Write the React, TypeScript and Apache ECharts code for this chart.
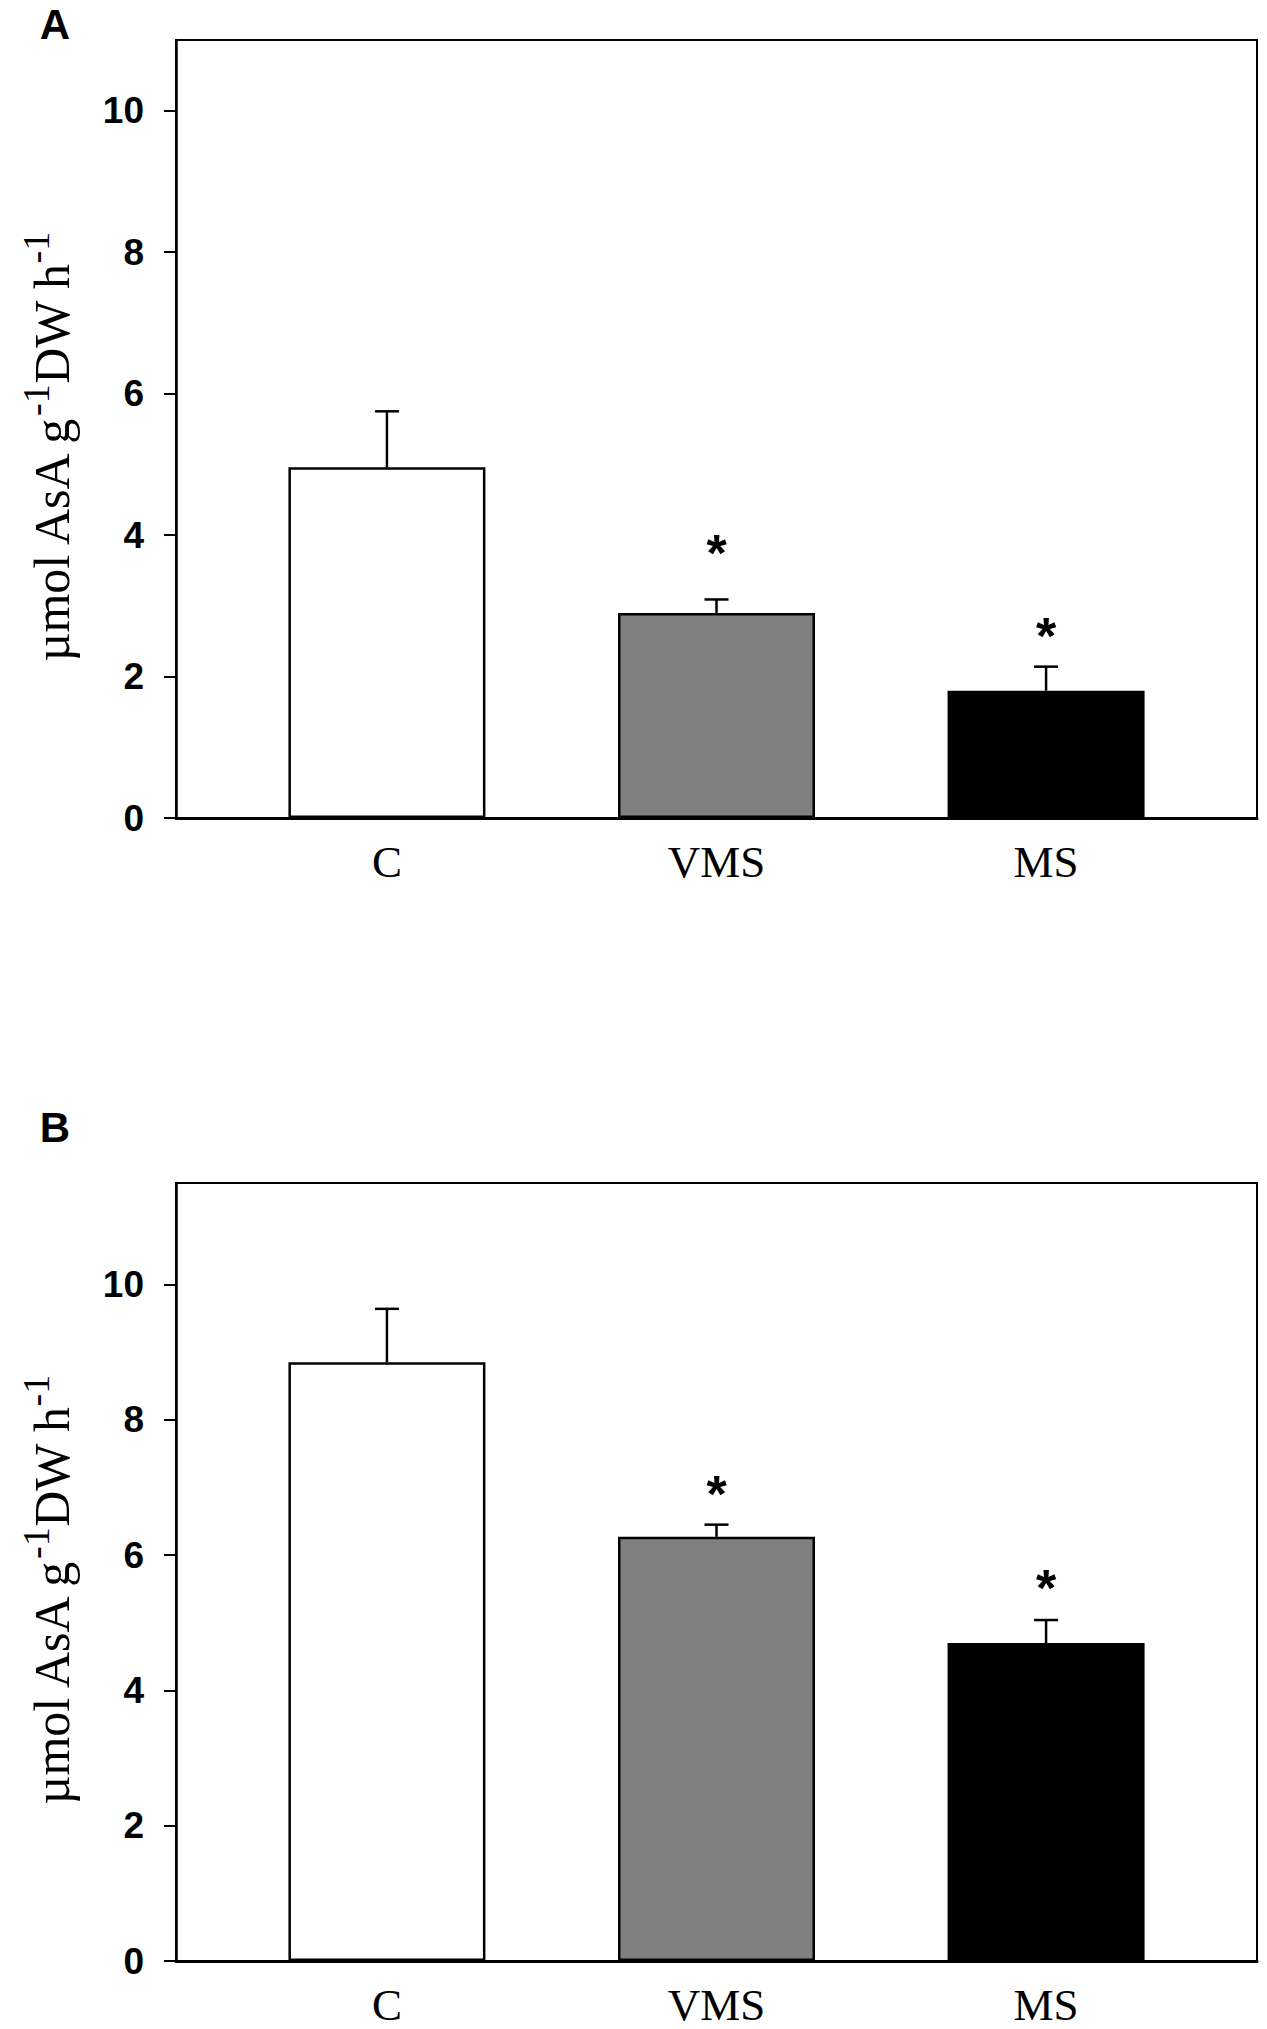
import React, { useEffect, useRef } from 'react';
import * as echarts from 'echarts';

const categories = ['C', 'VMS', 'MS'];
const categoryPos = [1, 2, 3];
const barColors = ['#ffffff', '#808080', '#000000'];
const meanA = [4.96, 2.9, 1.8];
const errA = [0.79, 0.19, 0.34];
const starA = [null, 3.9, 2.73];
const meanB = [8.85, 6.27, 4.7];
const errB = [0.79, 0.18, 0.34];
const starB = [null, 7.07, 5.68];
const yTicks = [0, 2, 4, 6, 8, 10];
const yMax = [11, 11.5];
const panelLabels = ['A', 'B'];
const yTitle = '{m|µmol AsA g}{s|-1}{m|DW h}{s|-1}';

const W = 1267;
const H = 2029;
const GRID_LEFT = 176;
const GRID_WIDTH = 1081;
const GRID_HEIGHT = 778;
const GRID_TOPS = [40, 1183];

export default function App() {
  const ref = useRef<HTMLDivElement>(null);
  useEffect(() => {
    if (!ref.current) return;
    const chart = echarts.init(ref.current, null, { renderer: 'svg' });
    const means = [meanA, meanB];
    const errs = [errA, errB];
    const stars = [starA, starB];

    const grid: any[] = [];
    const xAxis: any[] = [];
    const yAxis: any[] = [];
    const series: any[] = [];
    const elements: any[] = [];

    [0, 1].forEach((i) => {
      grid.push({
        left: GRID_LEFT,
        top: GRID_TOPS[i],
        width: GRID_WIDTH,
        height: GRID_HEIGHT,
        show: true,
        borderColor: '#000',
        borderWidth: 2,
        backgroundColor: 'transparent',
      });
      xAxis.push({
        type: 'value',
        gridIndex: i,
        min: 0.36,
        max: 3.64,
        axisLine: { show: true, onZero: false, lineStyle: { color: '#000', width: 3 } },
        axisTick: { show: false },
        splitLine: { show: false },
        axisLabel: {
          customValues: categoryPos,
          formatter: (v: number) => {
            const k = categoryPos.indexOf(Math.round(v));
            return k >= 0 ? categories[k] : '';
          },
          fontFamily: 'Liberation Serif',
          fontSize: 45,
          color: '#000',
          margin: 21,
        },
      });
      yAxis.push({
        type: 'value',
        gridIndex: i,
        min: 0,
        max: yMax[i],
        interval: 2,
        axisLine: { show: true, lineStyle: { color: '#000', width: 2.5 } },
        axisTick: {
          show: true,
          inside: false,
          length: 12,
          customValues: yTicks,
          lineStyle: { color: '#000', width: 2 },
        },
        splitLine: { show: false },
        axisLabel: {
          customValues: yTicks,
          fontFamily: 'Liberation Sans',
          fontWeight: 'bold',
          fontSize: 37,
          color: '#000',
          margin: 32,
        },
      });
      series.push({
        type: 'bar',
        xAxisIndex: i,
        yAxisIndex: i,
        barWidth: 197,
        itemStyle: { borderColor: '#000', borderWidth: 2.5 },
        data: categoryPos.map((x, j) => ({
          value: [x, means[i][j]],
          itemStyle: { color: barColors[j] },
        })),
        z: 2,
      });
      series.push({
        type: 'custom',
        xAxisIndex: i,
        yAxisIndex: i,
        z: 3,
        data: categoryPos.map((x, j) => [x, means[i][j], errs[i][j]]),
        renderItem: (params: any, api: any) => {
          const x = api.value(0);
          const y = api.value(1);
          const e = api.value(2);
          const base = api.coord([x, y]);
          const top = api.coord([x, y + e]);
          const st = { stroke: '#000', lineWidth: 2.5 };
          return {
            type: 'group',
            children: [
              { type: 'line', shape: { x1: base[0], y1: base[1], x2: top[0], y2: top[1] }, style: st },
              { type: 'line', shape: { x1: top[0] - 12, y1: top[1], x2: top[0] + 12, y2: top[1] }, style: st },
            ],
          };
        },
      });
      series.push({
        type: 'custom',
        xAxisIndex: i,
        yAxisIndex: i,
        z: 4,
        data: categoryPos
          .map((x, j) => [x, stars[i][j]])
          .filter((d) => d[1] != null),
        renderItem: (params: any, api: any) => {
          const p = api.coord([api.value(0), api.value(1)]);
          return {
            type: 'text',
            x: p[0],
            y: p[1] + 11,
            style: {
              text: '*',
              fontFamily: 'Liberation Sans',
              fontWeight: 'bold',
              fontSize: 52,
              fill: '#000',
              align: 'center',
              verticalAlign: 'middle',
            },
          };
        },
      });
      elements.push({
        type: 'text',
        x: 55,
        y: i === 0 ? 24 : 1127,
        style: {
          text: panelLabels[i],
          fontFamily: 'Liberation Sans',
          fontWeight: 'bold',
          fontSize: 42,
          fill: '#000',
          align: 'center',
          verticalAlign: 'middle',
        },
      });
      elements.push({
        type: 'text',
        x: 52,
        y: GRID_TOPS[i] + 408,
        rotation: Math.PI / 2,
        style: {
          text: yTitle,
          align: 'center',
          verticalAlign: 'middle',
          rich: {
            m: { fontFamily: 'Liberation Serif', fontSize: 50, lineHeight: 70, fill: '#000' },
            s: { fontFamily: 'Liberation Serif', fontSize: 38, lineHeight: 38, verticalAlign: 'top', fill: '#000' },
          },
        },
      });
    });

    chart.setOption({
      animation: false,
      backgroundColor: '#fff',
      grid,
      xAxis,
      yAxis,
      series,
      graphic: { elements },
    });
    return () => chart.dispose();
  }, []);
  return (
    <div
      ref={ref}
      style={{ position: 'absolute', left: 0, top: 0, width: W, height: H, background: '#fff' }}
    />
  );
}
